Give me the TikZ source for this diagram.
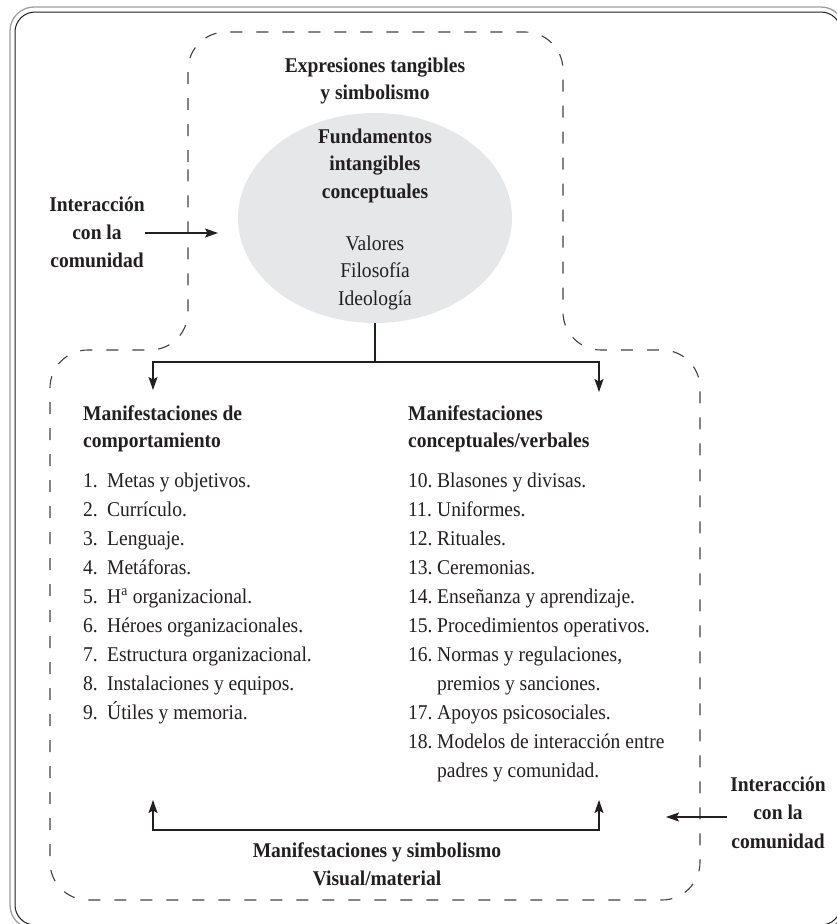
\documentclass[tikz,border=0pt]{standalone}
\usepackage{fontspec}
\setmainfont{Liberation Serif}[FakeStretch=0.93]
\usetikzlibrary{arrows.meta,shapes.geometric}
\definecolor{ink}{HTML}{231F20}
\definecolor{bubble}{HTML}{E6E7E8}
\tikzset{
  every node/.style={inner sep=0pt, text=ink},
  headtxt/.style={font=\fontsize{21}{27.5}\selectfont\bfseries},
  bodytxt/.style={font=\fontsize{21}{27.5}\selectfont},
  sidetxt/.style={font=\fontsize{21}{28}\selectfont\bfseries, anchor=north},
  listtxt/.style={font=\fontsize{21}{29}\selectfont, anchor=north west},
  link/.style={draw=ink, line width=1.2pt},
  arrowed/.style={-{Stealth[length=13pt,width=9pt,inset=2.5pt]}},
  botharrowed/.style={{Stealth[length=13pt,width=9pt,inset=2.5pt]}-{Stealth[length=13pt,width=9pt,inset=2.5pt]}},
  zone/.style={draw=ink!85, line width=1.1pt, dash pattern=on 12pt off 14pt, rounded corners=38pt},
}
\begin{document}
\begin{tikzpicture}[x=1pt, y=-1pt]
\useasboundingbox (0,0) rectangle (837,924);
\fill[white] (0,0) rectangle (837,924);

% double outer frame
\draw[gray!75, line width=1.3pt, rounded corners=24pt] (10,7) rectangle (845,929);
\draw[ink, line width=1pt, rounded corners=20pt] (15,12) rectangle (841,925);

% dashed outline: upper zone joined to lower zone
\draw[zone] (188,200) -- (188,32) -- (563,32) -- (563,350) -- (700,350)
  -- (700,900) -- (50,900) -- (50,350) -- (188,350) -- cycle;

% central ellipse
\node[ellipse, fill=bubble, minimum width=274pt, minimum height=210pt] (ell) at (375,218) {};

\node[headtxt, anchor=north] (expr) at (375,52.75)
  {\begin{tabular}{@{}c@{}}Expresiones tangibles\\ y simbolismo\end{tabular}};
\node[headtxt, anchor=north] (fund) at (375,123.75)
  {\begin{tabular}{@{}c@{}}Fundamentos\\ intangibles\\ conceptuales\end{tabular}};
\node[bodytxt, anchor=north] (vals) at (375,230.75)
  {\begin{tabular}{@{}c@{}}Valores\\ Filosofía\\ Ideología\end{tabular}};

% side labels
\node[sidetxt] (intL) at (97,191.4)
  {\begin{tabular}{@{}c@{}}Interacción\\ con la\\ comunidad\end{tabular}};
\node[sidetxt, font=\fontsize{21}{28.5}\selectfont\bfseries] (intR) at (778,771.05)
  {\begin{tabular}{@{}c@{}}Interacción\\ con la\\ comunidad\end{tabular}};
\node[sidetxt] (bot) at (377,837.4)
  {\begin{tabular}{@{}c@{}}Manifestaciones y simbolismo\\ Visual/material\end{tabular}};

% column headings
\node[headtxt, font=\fontsize{21}{27}\selectfont\bfseries, anchor=north west] (hL) at (83,401.1)
  {\begin{tabular}{@{}l@{}}Manifestaciones de\\ comportamiento\end{tabular}};
\node[headtxt, font=\fontsize{21}{27}\selectfont\bfseries, anchor=north west] (hR) at (408,401.1)
  {\begin{tabular}{@{}l@{}}Manifestaciones\\ conceptuales/verbales\end{tabular}};

% item lists
\node[listtxt] (listL) at (83,466.7)
  {\begin{tabular}{@{}p{24pt}@{}l@{}}
  1. & Metas y objetivos.\\
  2. & Currículo.\\
  3. & Lenguaje.\\
  4. & Metáforas.\\
  5. & H\textsuperscript{a} organizacional.\\
  6. & Héroes organizacionales.\\
  7. & Estructura organizacional.\\
  8. & Instalaciones y equipos.\\
  9. & Útiles y memoria.
  \end{tabular}};
\node[listtxt] (listR) at (408,466.7)
  {\begin{tabular}{@{}p{29pt}@{}l@{}}
  10. & Blasones y divisas.\\
  11. & Uniformes.\\
  12. & Rituales.\\
  13. & Ceremonias.\\
  14. & Enseñanza y aprendizaje.\\
  15. & Procedimientos operativos.\\
  16. & Normas y regulaciones,\\
      & premios y sanciones.\\
  17. & Apoyos psicosociales.\\
  18. & Modelos de interacción entre\\
      & padres y comunidad.
  \end{tabular}};

% connector points
\coordinate (jn) at (375,362);
\coordinate (downL) at (153,390);
\coordinate (downR) at (599,392);
\coordinate (upL) at (153,800);
\coordinate (upR) at (599,800);
\coordinate (baseL) at (153,830);
\coordinate (baseR) at (599,830);
\coordinate (tipL) at (218,233);
\coordinate (tipR) at (666,817);

% connectors
\draw[link] (ell.south) -- (jn);
\draw[link, arrowed] (jn) -| (downL);
\draw[link, arrowed] (jn) -| (downR);
\draw[link, botharrowed] (upL) -- (baseL) -- (baseR) -- (upR);
\draw[link, arrowed] (intL.east |- tipL) -- (tipL);
\draw[link, arrowed] (intR.west |- tipR) ++(-3,0) -- (tipR);
\end{tikzpicture}
\end{document}
